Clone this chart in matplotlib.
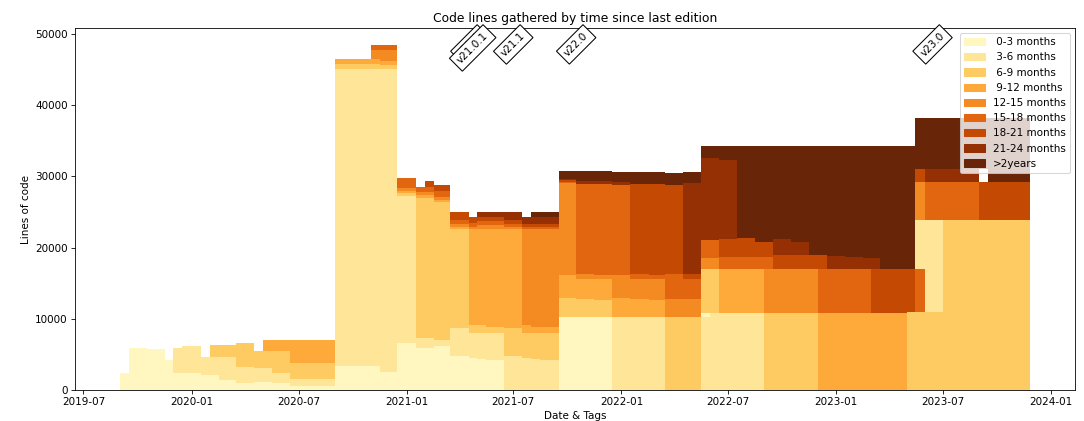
import datetime as dt
import matplotlib
matplotlib.use('Agg')
import matplotlib.pyplot as plt
import matplotlib.dates as mdates
import matplotlib.patches as mpatches

# age buckets (legend) and their colours
buckets = [' 0-3 months', ' 3-6 months', ' 6-9 months', ' 9-12 months',
           '12-15 months', '15-18 months', '18-21 months', '21-24 months', '>2years']
colors = ['#fff6c0', '#fee598', '#fecb62', '#fdaa3a', '#f38b22',
          '#e2660f', '#c44a04', '#953005', '#682507']

# sample dates (start of each column) and last end date
col_dates = ['2019-09-02', '2019-09-17', '2019-10-17', '2019-11-17', '2019-12-01',
             '2019-12-16', '2020-01-17', '2020-02-01', '2020-02-16', '2020-03-17',
             '2020-04-16', '2020-05-01', '2020-05-16', '2020-06-16', '2020-09-01',
             '2020-11-01', '2020-11-16', '2020-12-16', '2021-01-16', '2021-02-01',
             '2021-02-16', '2021-03-16', '2021-04-16', '2021-05-01', '2021-05-16',
             '2021-06-16', '2021-07-16', '2021-08-01', '2021-08-16', '2021-09-16',
             '2021-10-16', '2021-11-16', '2021-12-16', '2022-01-16', '2022-02-16',
             '2022-03-16', '2022-04-16', '2022-05-16', '2022-05-31', '2022-06-16',
             '2022-07-16', '2022-08-16', '2022-09-01', '2022-09-16', '2022-10-16',
             '2022-11-16', '2022-12-01', '2022-12-16', '2023-01-16', '2023-02-16',
             '2023-03-01', '2023-03-16', '2023-05-01', '2023-05-16', '2023-06-01',
             '2023-07-01', '2023-09-01', '2023-09-16']
end_date = '2023-11-26'

# lines of code per column, bottom -> top, as (bucket index, lines); None = empty slot
col_stacks = [
    [(0, 2430)],
    [(0, 5840)],
    [(0, 5740)],
    [(0, 4200)],
    [(0, 2430), (1, 3410)],
    [(0, 2430), (1, 3730)],
    [(0, 2100), (1, 2570)],
    [(0, 2100), (1, 2570), (2, 1630)],
    [(0, 1400), (1, 3270), (2, 1630)],
    [(0, 1030), (1, 2240), (2, 3360)],
    [(0, 1170), (1, 1860), (2, 2480)],
    [(0, 1170), (1, 1860), (2, 2480), (3, 1490)],
    [(0, 930), (1, 1500), (2, 3080), (3, 1490)],
    [(0, 560), (1, 930), (2, 2240), (3, 3270)],
    [(0, 3400), (1, 41650), (2, 700), (3, 710)],
    [(0, 3400), (1, 41650), (2, 700), (3, 710), (4, 1300), (5, 640)],
    [(0, 2560), (1, 42490), (2, 560), (3, 610), (4, 1540), (5, 640)],
    [(0, 6540), (1, 20730), (2, 320), (3, 320), (4, 380), (5, 1540)],
    [(0, 5930), (1, 1310), (2, 19740), (3, 380), (4, 460), (5, 710)],
    [(0, 5930), (1, 1310), (2, 19740), (3, 380), (4, 460), (5, 710), (6, 790)],
    [(0, 6160), (1, 840), (2, 19330), (3, 330), (4, 460), (5, 800), (6, 840)],
    [(0, 4760), (1, 3880), (2, 14000), (3, 230), (4, 380), (5, 560), (6, 1210)],
    [(0, 4440), (1, 3590), (2, 1070), (3, 13540), (4, 230), (5, 560), (6, 890)],
    [(0, 4290), (1, 3740), (2, 1070), (3, 13540), (4, 470), (5, 600), (6, 560), (7, 700)],
    [(0, 4200), (1, 3830), (2, 750), (3, 13860), (4, 470), (5, 600), (6, 560), (7, 700)],
    [(1, 4760), (2, 3880), (3, 14000), (4, 230), (5, 470), (6, 470), (7, 1160)],
    [(1, 4440), (2, 3590), (3, 1070), (4, 13540), (5, 230), (6, 470), (7, 930)],
    [(1, 4290), (2, 3740), (3, 840), (4, 13770), (5, 230), (6, 470), (7, 930), (8, 700)],
    [(1, 4200), (2, 3830), (3, 750), (4, 13860), (5, 230), (6, 470), (7, 930), (8, 700)],
    [(0, 10270), (2, 2710), (3, 3130), (4, 12950), (5, 200), (6, 200), (7, 180), (8, 1170)],
    [(0, 10270), (2, 2570), (3, 2800), (4, 700), (5, 12610), (7, 460), (8, 1400)],
    [(0, 10270), (2, 2430), (3, 2940), (4, 470), (5, 12840), (7, 370), (8, 1400)],
    [(1, 10270), (3, 2710), (4, 3130), (5, 12600), (7, 470), (8, 1400)],
    [(1, 10270), (3, 2570), (4, 2800), (5, 700), (6, 12510), (8, 1730)],
    [(1, 10270), (3, 2330), (4, 3040), (5, 470), (6, 12740), (8, 1730)],
    [(2, 10270), (4, 2570), (5, 3500), (6, 12370), (8, 1770)],
    [(2, 10270), (4, 2570), (5, 2800), (6, 700), (7, 12690), (8, 1640)],
    [(1, 10270), (0, 470), (2, 6300), (4, 1490), (5, 2480), (7, 11520), (8, 1690)],
    [(1, 10740), (2, 6300), (4, 1490), (5, 2480), (7, 11520), (8, 1690)],
    [(1, 10740), (3, 6300), (5, 1630), (6, 2570), (7, 11110), (8, 1870)],
    [(1, 10740), (3, 6300), (5, 1630), (6, 2670), (8, 12880)],
    [(1, 10740), (3, 6300), (5, 1630), (6, 2110), (8, 13440)],
    [(2, 10740), (4, 6300), (5, 1630), (6, 2110), (8, 13440)],
    [(2, 10740), (4, 6300), (6, 1870), (7, 2240), (8, 13070)],
    [(2, 10740), (4, 6300), (6, 1870), (7, 1870), (8, 13440)],
    [(2, 10740), (4, 6300), (6, 1870), (8, 15310)],
    [(3, 10740), (5, 6300), (6, 1870), (8, 15310)],
    [(3, 10740), (5, 6300), (7, 1780), (8, 15400)],
    [(3, 10740), (5, 6300), (7, 1630), (8, 15550)],
    [(3, 10740), (5, 6300), (7, 1490), (8, 15690)],
    [(3, 10740), (6, 6300), (7, 1490), (8, 15690)],
    [(3, 10740), (6, 6300), (8, 17180)],
    [(2, 10880), (6, 6160), (8, 17180)],
    [(2, 10880), (5, 6160), (1, 6770), (4, 5370), (6, 1870), (8, 7090)],
    [(2, 10880), (1, 12930), (5, 5370), (7, 1870), (8, 7090)],
    [(2, 23810), (5, 5370), (7, 1870), (8, 7090)],
    [(2, 23810), (6, 5370), (None, 1870), (8, 7090)],
    [(2, 23810), (6, 5370), (8, 8960)],
]

tags = ['v21.0', 'v21.0.1', 'v21.1', 'v22.0', 'v23.0']
tag_dates = ['2021-04-19', '2021-04-23', '2021-07-01', '2021-10-16', '2023-06-14']


def to_num(s):
    return mdates.date2num(dt.datetime.strptime(s, '%Y-%m-%d'))


DPI = 74.5
fig = plt.figure(figsize=(14.5504, 5.6511), dpi=DPI)
ax = fig.add_axes([75 / 1084, 31 / 421, 1000 / 1084, 362 / 421])
ax.xaxis_date()

# split segments per bucket so each bucket is one bar call
edges = [to_num(d) for d in col_dates] + [to_num(end_date)]
per_bucket = {k: ([], [], [], []) for k in range(len(buckets))}
for i, stack in enumerate(col_stacks):
    left, width = edges[i], edges[i + 1] - edges[i]
    bottom = 0
    for b, v in stack:
        if b is not None:
            xs, ws, hs, bs = per_bucket[b]
            xs.append(left)
            ws.append(width)
            hs.append(v)
            bs.append(bottom)
        bottom += v

for k in range(len(buckets)):
    xs, ws, hs, bs = per_bucket[k]
    ax.bar(xs, hs, width=ws, bottom=bs, align='edge', color=colors[k],
           linewidth=0, antialiased=False)

for t, d in zip(tags, tag_dates):
    ax.text(to_num(d), 0.993, t, transform=ax.get_xaxis_transform(), rotation=45,
            ha='center', va='top', fontsize=10,
            bbox=dict(facecolor='white', edgecolor='black'))

handles = [mpatches.Patch(color=c, label=l) for c, l in zip(colors, buckets)]
ax.legend(handles=handles, loc='upper right')

ax.set_title('Code lines gathered by time since last edition')
ax.set_xlabel('Date & Tags')
ax.set_ylabel('Lines of code')

fig.savefig('out.png', dpi=DPI)
